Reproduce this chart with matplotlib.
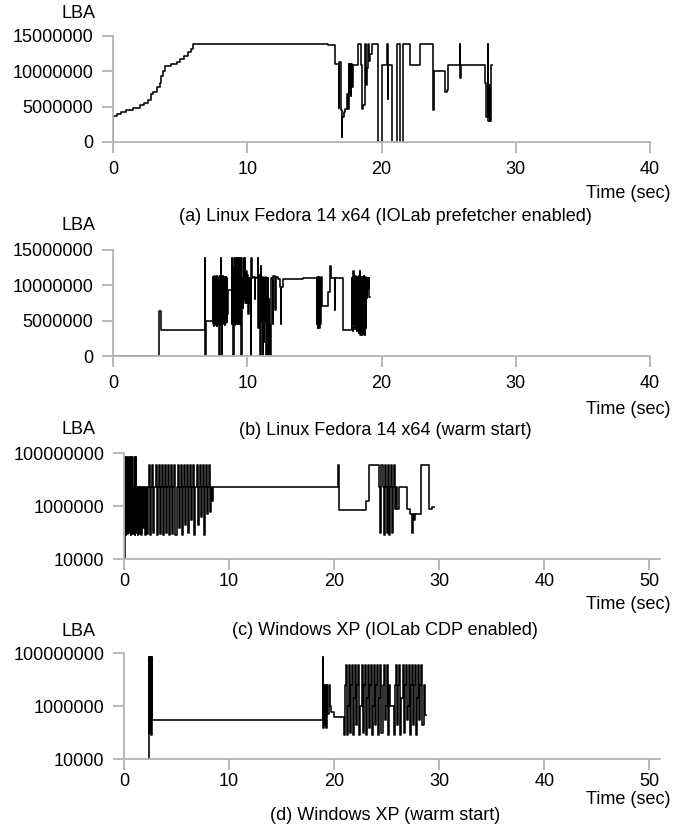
import numpy as np
import matplotlib.pyplot as plt

plt.rcParams['font.family'] = ['Liberation Sans', 'DejaVu Sans']

W, H = 686, 830

# (a) Linux Fedora 14 x64, IOLab prefetcher enabled  (time s, LBA in millions)
a_t = [0, 0.03, 0.3, 0.6, 1.0, 1.5, 2.0, 2.3, 2.6, 2.8, 3.0, 3.3, 3.5, 3.6, 3.75, 3.9, 4.3,
       4.8, 5.0, 5.3, 5.6, 5.8, 5.95, 16.0, 16.55, 16.8, 16.85, 16.95, 17.03, 17.08, 17.2,
       17.3, 17.45, 17.5, 17.55, 17.6, 17.65, 17.7, 17.75, 17.8, 17.85, 18.27, 18.45, 18.52,
       18.64, 18.75, 18.8, 18.85, 18.95, 19.0, 19.05, 19.15, 19.27, 19.76, 20.01, 20.4, 20.45,
       20.5, 20.76, 21.13, 21.38, 21.63, 22.12, 22.87, 23.86, 23.9, 24.73, 24.85, 24.98, 25.85,
       25.88, 25.92, 27.71, 27.8, 27.9, 27.95, 28.05, 28.1, 28.15, 28.21]
a_v = [0, 3.7, 4.0, 4.3, 4.5, 4.8, 5.2, 5.5, 6.0, 6.8, 7.1, 7.8, 8.4, 9.3, 10.0, 10.8, 11.0,
       11.3, 11.8, 12.2, 12.7, 13.2, 13.8, 13.75, 11.0, 4.8, 11.3, 4.5, 0.7, 3.5, 4.3,
       4.6, 6.8, 4.6, 11.0, 7.0, 11.0, 6.5, 11.0, 7.8, 10.9, 13.8, 10.9, 4.7,
       5.2, 6.5, 13.8, 8.0, 10.5, 13.8, 11.5, 12.5, 13.8, 0.0, 10.9, 13.8, 6.1,
       10.9, 0.0, 13.8, 0.0, 13.8, 10.9, 13.8, 4.5, 10.0, 7.1, 7.4, 10.9, 13.8,
       9.0, 10.9, 8.3, 3.5, 13.8, 3.0, 8.0, 3.0, 10.9, 10.9]

# (b) Linux Fedora 14 x64, warm start
b_t = [0, 3.45, 3.55, 6.85, 6.88, 6.92,
       7.45, 7.475, 7.5, 7.525, 7.55, 7.575, 7.6, 7.625, 7.65, 7.675, 7.7, 7.725, 7.75, 7.775,
       7.8, 7.825, 7.85, 7.875, 7.9, 7.925, 7.95, 7.975, 8.0, 8.025, 8.05, 8.075, 8.1, 8.125,
       8.15, 8.175, 8.2, 8.225, 8.25, 8.275, 8.3, 8.325, 8.35, 8.375, 8.4, 8.425, 8.45, 8.475,
       8.5, 8.525, 8.55,
       8.84, 8.87, 8.9, 8.93, 8.96, 8.99, 9.02, 9.05, 9.08, 9.11, 9.14, 9.17, 9.2, 9.23, 9.26,
       9.29, 9.32, 9.35, 9.38, 9.41, 9.44, 9.47, 9.5, 9.53, 9.56, 9.6, 9.65, 9.7, 9.75, 9.8,
       9.85, 9.9, 9.95, 10.0, 10.05, 10.1, 10.15, 10.2, 10.25, 10.3, 10.35, 10.45, 10.55, 10.6,
       10.7, 10.8, 10.83, 10.86, 10.9, 10.93, 10.96, 11.0, 11.03, 11.06, 11.1, 11.13, 11.16,
       11.2, 11.23, 11.26, 11.3, 11.33, 11.36, 11.4, 11.43, 11.46, 11.5, 11.53, 11.56, 11.6,
       11.63, 11.69, 11.75, 11.85, 11.9, 11.95, 12.05, 12.1, 12.15, 12.3, 12.44, 12.5, 12.55,
       12.69, 14.18,
       15.17, 15.2, 15.23, 15.26, 15.29, 15.32, 15.35, 15.38, 15.41, 15.44, 15.47, 15.54,
       16.04, 16.15, 16.2, 16.25, 16.5, 16.55, 17.16,
       17.78, 17.81, 17.84, 17.87, 17.9, 17.93, 17.96, 18.0, 18.03, 18.06, 18.1, 18.13, 18.16,
       18.2, 18.23, 18.26, 18.3, 18.33, 18.36, 18.4, 18.43, 18.46, 18.5, 18.53, 18.56, 18.6,
       18.63, 18.66, 18.7, 18.73, 18.76, 18.8, 18.83, 18.86, 18.9, 18.95, 19.0, 19.05, 19.1,
       19.14]
b_v = [0, 6.3, 3.7, 13.8, 0.0, 5.0,
       11.2, 4.5, 11.0, 4.3, 11.3, 5.0, 10.8, 4.4, 11.2, 4.6, 11.0, 4.2, 11.3, 4.5,
       10.9, 4.8, 11.2, 4.4, 11.0, 0.0, 11.3, 4.5, 11.0, 4.7, 13.8, 4.4, 11.2, 0.0,
       11.0, 4.6, 11.3, 4.5, 10.9, 5.0, 11.2, 4.4, 11.0, 4.6, 11.2, 5.2, 10.9, 4.8,
       11.0, 6.0, 9.3,
       13.8, 4.5, 12.5, 6.0, 0.0, 11.8, 5.0, 13.8, 4.4, 12.0, 7.0, 13.8, 9.0, 4.5, 13.8,
       5.5, 12.8, 4.5, 13.8, 6.5, 13.8, 4.5, 13.8, 8.0, 0.0, 11.0, 6.8, 13.8, 8.0, 13.8,
       7.5, 12.0, 7.5, 11.5, 6.0, 11.0, 7.5, 10.9, 0.0, 13.8, 11.0, 11.2, 8.0, 11.0,
       11.2, 13.8, 4.0, 11.5, 6.0, 11.0, 0.0, 12.8, 3.5, 11.0, 5.0, 11.2, 0.0,
       10.5, 2.0, 11.0, 5.0, 11.2, 4.0, 10.0, 0.0, 11.0, 6.0, 11.0, 0.0, 8.0,
       4.5, 0.0, 11.0, 10.9, 4.5, 11.3, 11.0, 6.5, 11.2, 10.9, 9.8, 4.5, 9.8,
       10.9, 11.1,
       11.0, 4.5, 11.2, 3.9, 11.0, 4.2, 11.2, 4.0, 11.0, 4.5, 11.2, 7.1,
       9.0, 11.0, 12.8, 11.0, 6.5, 11.0, 3.7,
       11.0, 4.0, 11.2, 3.5, 12.0, 4.5, 11.0, 10.0, 3.8, 11.3, 4.5, 11.0, 3.5,
       11.2, 8.0, 11.0, 3.2, 11.3, 4.0, 12.0, 3.0, 11.0, 4.5, 11.2, 3.0, 11.0,
       3.2, 11.3, 5.0, 11.0, 3.0, 11.2, 4.0, 11.0, 8.2, 11.0, 9.5, 11.0, 8.3,
       8.3]

# (c) Windows XP, IOLab CDP enabled  (LBA absolute)
c_t = [0.0, 0.05, 0.1, 0.15, 0.2, 0.25, 0.3, 0.35, 0.4, 0.45, 0.5, 0.55, 0.6, 0.65, 0.7, 0.75,
       0.8, 0.85, 0.9, 0.95, 1.0, 1.05, 1.1, 1.15, 1.2, 1.25, 1.3, 1.35,
       1.4, 1.5, 1.6, 1.7, 1.8, 1.9, 2.0, 2.1, 2.2, 2.3,
       2.4, 2.5, 2.6, 2.7, 2.8, 2.9, 3.0, 3.1, 3.2, 3.3, 3.4, 3.5, 3.6, 3.7, 3.8, 3.9, 4.0,
       4.1, 4.2, 4.3, 4.4, 4.5, 4.6, 4.7, 4.8, 4.9, 5.0, 5.1, 5.2, 5.3, 5.4, 5.5, 5.6, 5.7,
       5.8, 5.9, 6.0, 6.1, 6.2, 6.3, 6.4, 6.5, 6.6, 6.7, 6.8, 6.9, 7.0, 7.1, 7.2, 7.3, 7.4,
       7.5, 7.6, 7.7, 7.8, 7.9, 8.0, 8.1, 8.2, 8.3, 8.4, 8.5,
       20.4, 20.45, 23.0, 23.3, 24.3, 24.4, 24.5, 24.6, 24.7, 24.8, 24.9, 25.0, 25.1, 25.2,
       25.3, 25.4, 25.5, 25.6, 25.7, 25.8, 25.9, 26.0, 26.2, 26.9, 27.2, 27.4, 27.5, 27.6,
       27.7, 28.3, 29.0, 29.3, 29.5]
c_v = [1e4, 7e7, 5e6, 8e4, 7e7, 5e6, 9e4, 5e6, 7e7, 5e6, 1e5, 5e6, 7e7, 8e4, 5e6, 7e7,
       5e6, 9e4, 5e6, 7e7, 8e4, 5e6, 7e7, 5e6, 1e5, 5e6, 8e4, 5e6,
       9e4, 5e6, 8e4, 5e6, 1.5e5, 5e6, 8e4, 5e6, 9e4, 5e6,
       3.5e7, 8e4, 5e6, 3.5e7, 1e5, 5e6, 3.5e7, 8e4, 5e6, 3.5e7, 9e4, 5e6, 3.5e7, 8e4, 5e6,
       3.5e7, 1e5, 5e6, 3.5e7, 8e4, 5e6, 3.5e7, 9e4, 5e6, 3.5e7, 8e4, 5e6, 3.5e7, 1.5e5, 5e6,
       3.5e7, 8e4, 5e6, 3.5e7, 2e5, 5e6, 3.5e7, 1e5, 5e6, 3.5e7, 3e5, 5e6, 3.5e7, 8e4, 5e6,
       3.5e7, 2e5, 5e6, 3.5e7, 4e5, 5e6, 3.5e7, 8e4, 5e6, 3.5e7, 5e5, 5e6, 3.5e7, 6e5, 5e6,
       1.5e6, 5e6,
       3.5e7, 7e5, 1.5e6, 3.5e7, 5e6, 1e5, 3.5e7, 5e6, 8e4, 3.5e7, 5e6, 1e5, 3.5e7, 8e4,
       5e6, 3.5e7, 1e5, 5e6, 3.5e7, 8e5, 5e6, 8e5, 5e6, 8e5, 5e5, 1e5, 5e5, 3e5,
       5e5, 3.5e7, 8e5, 9e5, 9e5]

# (d) Windows XP, warm start
d_t = [2.3, 2.35, 2.4, 2.45, 2.5, 2.55, 2.6, 2.65, 2.7, 18.9, 18.95, 19.0, 19.05, 19.15, 19.2,
       19.3, 19.35, 19.5, 19.6, 19.7, 20.0, 20.3, 20.9, 21.0,
       21.1, 21.2, 21.3, 21.4, 21.5, 21.6, 21.7, 21.8, 21.9, 22.0, 22.1, 22.2, 22.3, 22.4,
       22.5, 22.6, 22.7, 22.8, 22.9, 23.0, 23.1, 23.2, 23.3, 23.4, 23.5, 23.6, 23.7, 23.8,
       23.9, 24.0, 24.1, 24.2, 24.3, 24.4, 24.5, 24.6, 24.7, 24.8, 24.9, 25.0, 25.1, 25.2,
       25.3, 25.5, 25.7, 25.8, 25.9, 26.0, 26.1, 26.2, 26.3, 26.4, 26.5, 26.6, 26.7, 26.8,
       26.9, 27.0, 27.1, 27.2, 27.3, 27.4, 27.5, 27.6, 27.7, 27.8, 27.9, 28.0, 28.1, 28.2,
       28.3, 28.4, 28.5, 28.6, 28.7]
d_v = [1e4, 7e7, 1e5, 7e7, 2e5, 7e7, 8e4, 7e7, 3e5, 7e7, 1.5e5, 6.4e6, 2e5, 6.4e6, 1.5e5,
       6.4e6, 5e5, 6.4e6, 1e6, 6e5, 4e5, 4e5, 8e4, 6.4e6,
       3.5e7, 8e4, 1e6, 3.5e7, 1e5, 6.4e6, 3.5e7, 8e4, 2e6, 3.5e7, 2e5, 6.4e6, 3.5e7, 8e4,
       1e6, 3.5e7, 1e5, 6.4e6, 3.5e7, 8e4, 2e6, 3.5e7, 1.5e5, 6.4e6, 3.5e7, 8e4, 1e6, 3.5e7,
       2e5, 6.4e6, 3.5e7, 8e4, 2e6, 3.5e7, 1e5, 6.4e6, 3.5e7, 3e5, 1e6, 3.5e7, 8e4, 6.4e6,
       1e6, 1e6, 8e4, 6.4e6, 3.5e7, 2e5, 6.4e6, 3.5e7, 8e4, 2e6, 3.5e7, 1e5, 6.4e6, 3.5e7,
       3e5, 1e6, 3.5e7, 8e4, 6.4e6, 3.5e7, 2e5, 6.4e6, 3.5e7, 8e4, 2e6, 3.5e7, 3e5, 6.4e6,
       3.5e7, 2e5, 6.4e6, 4.7e5, 4.7e5]

captions = ['(a) Linux Fedora 14 x64 (IOLab prefetcher enabled)',
            '(b) Linux Fedora 14 x64 (warm start)',
            '(c) Windows XP (IOLab CDP enabled)',
            '(d) Windows XP (warm start)']

fig = plt.figure(figsize=(W / 100, H / 100), dpi=100)

def px_axes(x0, y0, x1, y1):
    return fig.add_axes([x0 / W, 1 - y1 / H, (x1 - x0) / W, (y1 - y0) / H])

def px_text(x, y, s, ha):
    fig.text(x / W, 1 - y / H, s, ha=ha, va='center', fontsize=13)

grey = '#b4b4b4'
# data, scale, log y, axes box (px), x max, LBA y, "Time" y, caption y, tick pad
panels = [
    (a_t, a_v, 1e6, False, (113, 36, 650, 142), 40, 14, 193, 216, 6),
    (b_t, b_v, 1e6, False, (113, 250, 650, 356), 40, 226, 410, 430, 6),
    (c_t, c_v, 1, True, (124, 453, 660, 559), 51, 429, 604, 630, 2),
    (d_t, d_v, 1, True, (124, 653, 660, 759), 51, 632, 799, 815, 2),
]

for i, (t, v, mult, logy, box, xmax, lba_y, time_y, cap_y, pad) in enumerate(panels):
    ax = px_axes(*box)
    ax.plot(t, np.array(v) * mult, color='black', lw=1.15, drawstyle='steps-post')
    if logy:
        ax.set_yscale('log')
        ax.set_ylim(1e4, 1e8)
        ax.set_yticks([1e4, 1e6, 1e8])
        ax.set_yticklabels(['10000', '1000000', '100000000'])
        ax.minorticks_off()
        ax.set_xticks([0, 10, 20, 30, 40, 50])
    else:
        ax.set_ylim(0, 15e6)
        ax.set_yticks([0, 5e6, 10e6, 15e6])
        ax.set_yticklabels(['0', '5000000', '10000000', '15000000'])
        ax.set_xticks([0, 10, 20, 30, 40])
    ax.set_xlim(0, xmax)
    for s in ['top', 'right']:
        ax.spines[s].set_visible(False)
    for s in ['left', 'bottom']:
        ax.spines[s].set_color(grey)
        ax.spines[s].set_linewidth(1.3)
    ax.tick_params(colors=grey, width=1.3, length=8, labelsize=13, labelcolor='black', pad=6)
    ax.tick_params(axis='x', pad=pad)
    ax.patch.set_visible(False)
    px_text(95, lba_y, 'LBA', 'right')
    px_text(670, time_y, 'Time (sec)', 'right')
    px_text(385, cap_y, captions[i], 'center')

fig.savefig('out.png', dpi=100)
